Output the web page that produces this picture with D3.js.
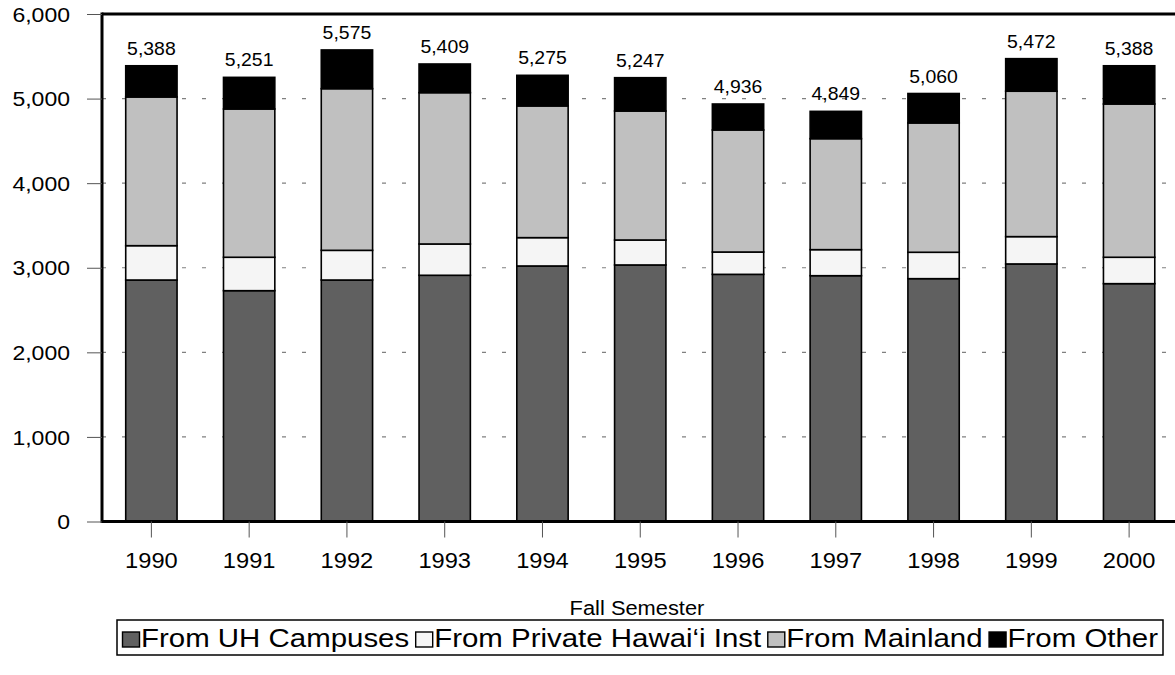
<!DOCTYPE html>
<html><head><meta charset="utf-8">
<script src="https://cdn.jsdelivr.net/npm/d3@7"></script>
<style>
html,body{margin:0;padding:0;background:#fff;}
text{font-family:"Liberation Sans",Arial,sans-serif;fill:#000;}
</style></head>
<body><svg id="c" width="1175" height="675"></svg>
<script>
const years = ["1990","1991","1992","1993","1994","1995","1996","1997","1998","1999","2000"];
const totals = [5388,5251,5575,5409,5275,5247,4936,4849,5060,5472,5388];
const uhCampuses = [2855,2729,2855,2911,3021,3033,2922,2906,2871,3045,2812];
const privateHawaii = [406,395,351,370,335,295,264,308,312,323,312];
const mainland = [1758,1753,1911,1789,1557,1525,1443,1312,1529,1719,1812];
const other = [369,374,458,339,362,394,307,323,348,385,452];
const seriesNames = ["From UH Campuses","From Private Hawai\u2018i Inst","From Mainland","From Other"];
const seriesColors = ["#606060","#f5f5f5","#c0c0c0","#000000"];
const yTicks = [0,1000,2000,3000,4000,5000,6000];

function stretch(sel, k){
  sel.each(function(){
    const w = this.getComputedTextLength();
    d3.select(this).attr("textLength", w*k).attr("lengthAdjust","spacingAndGlyphs");
  });
}

const svg = d3.select("#c");
const L = 102, R = 1172, T = 14, B = 521.5;
const x = d3.scaleBand().domain(years).range([102.5, 1178]).paddingInner(0.475).paddingOuter(0.2375);
const y = d3.scaleLinear().domain([0,6000]).range([B, T]);

// gridlines
svg.append("g").selectAll("line").data(yTicks.filter(d=>d>0 && d<6000)).join("line")
  .attr("x1", L).attr("x2", R).attr("y1", d=>y(d)).attr("y2", d=>y(d))
  .attr("stroke","#808080").attr("stroke-width",1.2).attr("stroke-dasharray","4,16");

// stacked data
const rows = years.map((yr,i)=>({year:yr, s0:uhCampuses[i], s1:privateHawaii[i], s2:mainland[i], s3:other[i], total:totals[i]}));
const stack = d3.stack().keys(["s0","s1","s2","s3"]);
const layers = stack(rows);
layers.forEach((layer,k)=>{
  svg.append("g").selectAll("rect").data(layer).join("rect")
    .attr("x", d=>x(d.data.year)).attr("width", x.bandwidth())
    .attr("y", d=> k===3 ? y(d.data.total) : y(d[1]))
    .attr("height", d=> (k===3 ? y(d[0]) - y(d.data.total) : y(d[0]) - y(d[1])))
    .attr("fill", seriesColors[k]).attr("stroke","#000").attr("stroke-width",1.6);
});

// totals labels
const tl = svg.append("g").selectAll("text").data(rows).join("text")
  .attr("x", d=>x(d.year)+x.bandwidth()/2).attr("y", d=>y(d.total)-11)
  .attr("text-anchor","middle").attr("font-size",18.5).text(d=>d3.format(",")(d.total));
stretch(tl, 1.05);

// axes lines
svg.append("line").attr("x1",L).attr("x2",1175).attr("y1",T).attr("y2",T).attr("stroke","#000").attr("stroke-width",3);
svg.append("line").attr("x1",L).attr("x2",1175).attr("y1",B).attr("y2",B).attr("stroke","#000").attr("stroke-width",3);
svg.append("line").attr("x1",L).attr("x2",L).attr("y1",T-1.5).attr("y2",B+1.5).attr("stroke","#000").attr("stroke-width",3);

// y axis
const yAxis = d3.axisLeft(y).tickValues(yTicks).tickFormat(d3.format(",")).tickSize(15).tickPadding(17);
const gy = svg.append("g").attr("transform",`translate(${L},0)`).call(yAxis);
gy.select(".domain").remove();
gy.selectAll(".tick line").attr("stroke","#555").attr("stroke-width",1);
gy.selectAll(".tick text").attr("font-size",20).attr("font-family","Liberation Sans, Arial, sans-serif").attr("fill","#000").attr("dy","0.36em");
stretch(gy.selectAll(".tick text"), 1.15);

// x axis
const xAxis = d3.axisBottom(x).tickSize(16).tickPadding(15);
const gx = svg.append("g").attr("transform",`translate(0,${B})`).call(xAxis);
gx.select(".domain").remove();
gx.selectAll(".tick line").attr("stroke","#555").attr("stroke-width",1);
gx.selectAll(".tick text").attr("font-size",21.5).attr("font-family","Liberation Sans, Arial, sans-serif").attr("fill","#000");
stretch(gx.selectAll(".tick text"), 1.1);

// x title
const xt = svg.append("text").attr("x",(L+R)/2).attr("y",615).attr("text-anchor","middle").attr("font-size",19.5).text("Fall Semester");
stretch(xt, 1.12);

// legend
const boxL = 117, boxR = 1163, boxT = 620, boxH = 35;
const fs = 25, sw = 18, sh = 15, sgap = 1, igap = 6, pad = 5;
const lg = svg.append("g");
const texts = seriesNames.map(n => lg.append("text").attr("font-size",fs).attr("y",647).text(n));
const rawW = texts.map(t => t.node().getComputedTextLength());
const avail = (boxR - boxL - 2*pad) - seriesNames.length*(sw+sgap) - (seriesNames.length-1)*igap;
const k = avail / d3.sum(rawW);
let cx = boxL + pad;
seriesNames.forEach((n,i)=>{
  lg.append("rect").attr("x",cx+0.5).attr("y",647-sh).attr("width",sw-1).attr("height",sh)
    .attr("fill",seriesColors[i]).attr("stroke","#000").attr("stroke-width",1.4);
  cx += sw + sgap;
  texts[i].attr("x",cx).attr("textLength",rawW[i]*k).attr("lengthAdjust","spacingAndGlyphs");
  cx += rawW[i]*k + igap;
});
svg.append("rect").attr("x",boxL).attr("y",boxT).attr("width",boxR-boxL).attr("height",boxH)
  .attr("fill","none").attr("stroke","#000").attr("stroke-width",1.5);
</script></body></html>
